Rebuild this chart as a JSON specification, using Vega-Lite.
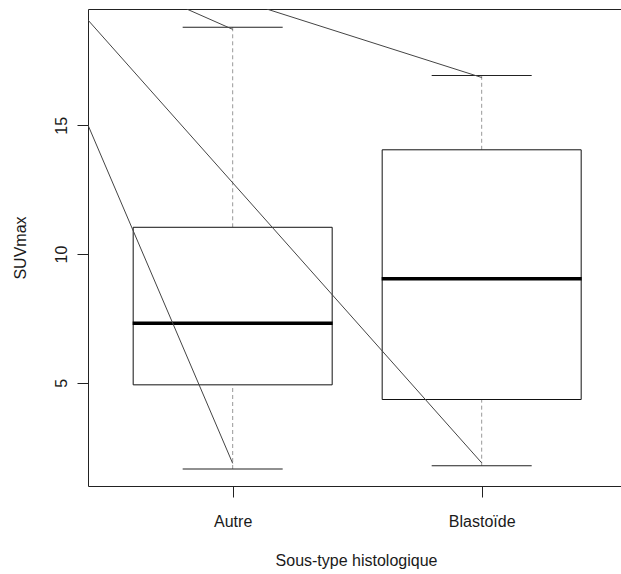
{
  "$schema": "https://vega.github.io/schema/vega-lite/v6.json",
  "width": 533,
  "height": 477,
  "autosize": {"type": "none"},
  "padding": {"left": 88, "top": 9, "right": 0, "bottom": 88},
  "background": "white",
  "config": {
    "font": "Liberation Sans",
    "view": {"stroke": "#222", "strokeWidth": 1},
    "axis": {
      "grid": false,
      "domain": false,
      "ticks": true,
      "tickSize": 11,
      "tickColor": "#222",
      "tickWidth": 1,
      "labelFont": "Liberation Sans",
      "labelFontSize": 16,
      "labelColor": "#1a1a1a",
      "titleFont": "Liberation Sans",
      "titleFontSize": 16,
      "titleFontWeight": "normal",
      "titleColor": "#1a1a1a"
    }
  },
  "datasets": {
    "boxes": [
      {"group": "Autre", "pos": 1, "lo": 1.65, "q1": 4.92, "med": 7.31, "q3": 11.04, "hi": 18.81},
      {"group": "Blastoïde", "pos": 2, "lo": 1.78, "q1": 4.35, "med": 9.04, "q3": 14.05, "hi": 16.94}
    ],
    "segments": [
      {"seg": "A", "x": 0.419, "y": 15.01},
      {"seg": "A", "x": 1.0, "y": 1.87},
      {"seg": "B", "x": 0.419, "y": 19.09},
      {"seg": "B", "x": 2.0, "y": 1.89},
      {"seg": "C", "x": 0.8153, "y": 19.52},
      {"seg": "C", "x": 1.0, "y": 18.73},
      {"seg": "D", "x": 1.1365, "y": 19.52},
      {"seg": "D", "x": 2.0, "y": 16.86}
    ]
  },
  "layer": [
    {
      "data": {"name": "boxes"},
      "mark": {"type": "rule", "color": "#999", "strokeWidth": 1, "strokeDash": [4, 3]},
      "encoding": {
        "x": {"field": "pos", "type": "quantitative", "scale": {"domain": [0.419, 2.5595], "nice": false, "zero": false, "padding": 0},
          "axis": {"values": [1, 2], "labelExpr": "datum.value == 1 ? 'Autre' : 'Blastoïde'", "labelBaseline": "alphabetic", "labelPadding": 29.5, "labelAlign": "center", "titleX": 268, "titleY": 79.7, "titleBaseline": "alphabetic", "titleAlign": "center"},
          "title": "Sous-type histologique"},
        "y": {"field": "q3", "type": "quantitative", "scale": {"domain": [0.99, 19.52], "nice": false, "zero": false, "padding": 0},
          "axis": {"values": [5, 10, 15], "labelAngle": -90, "labelAlign": "center", "labelBaseline": "alphabetic", "labelPadding": 11, "titleX": -63, "titleY": 238.5, "titleAngle": -90, "titleBaseline": "alphabetic", "titleAlign": "center"},
          "title": "SUVmax"},
        "y2": {"field": "hi"}
      }
    },
    {
      "data": {"name": "boxes"},
      "mark": {"type": "rule", "color": "#999", "strokeWidth": 1, "strokeDash": [4, 3]},
      "encoding": {
        "x": {"field": "pos", "type": "quantitative", "title": "Sous-type histologique"},
        "y": {"field": "lo", "type": "quantitative", "title": "SUVmax"},
        "y2": {"field": "q1"}
      }
    },
    {
      "data": {"name": "boxes"},
      "mark": {"type": "bar", "size": 199, "fill": "white", "stroke": "#111", "strokeWidth": 1},
      "encoding": {
        "x": {"field": "pos", "type": "quantitative", "title": "Sous-type histologique"},
        "y": {"field": "q1", "type": "quantitative", "title": "SUVmax"},
        "y2": {"field": "q3"}
      }
    },
    {
      "data": {"name": "boxes"},
      "mark": {"type": "tick", "orient": "horizontal", "size": 100, "thickness": 1, "color": "#222", "opacity": 1},
      "encoding": {
        "x": {"field": "pos", "type": "quantitative", "title": "Sous-type histologique"},
        "y": {"field": "hi", "type": "quantitative", "title": "SUVmax"}
      }
    },
    {
      "data": {"name": "boxes"},
      "mark": {"type": "tick", "orient": "horizontal", "size": 100, "thickness": 1, "color": "#222", "opacity": 1},
      "encoding": {
        "x": {"field": "pos", "type": "quantitative", "title": "Sous-type histologique"},
        "y": {"field": "lo", "type": "quantitative", "title": "SUVmax"}
      }
    },
    {
      "data": {"name": "boxes"},
      "mark": {"type": "tick", "orient": "horizontal", "size": 200, "thickness": 3.5, "color": "#000", "opacity": 1},
      "encoding": {
        "x": {"field": "pos", "type": "quantitative", "title": "Sous-type histologique"},
        "y": {"field": "med", "type": "quantitative", "title": "SUVmax"}
      }
    },
    {
      "data": {"name": "segments"},
      "mark": {"type": "line", "color": "#444", "strokeWidth": 1, "clip": true},
      "encoding": {
        "x": {"field": "x", "type": "quantitative", "title": "Sous-type histologique"},
        "y": {"field": "y", "type": "quantitative", "title": "SUVmax"},
        "detail": {"field": "seg", "type": "nominal"}
      }
    }
  ]
}
